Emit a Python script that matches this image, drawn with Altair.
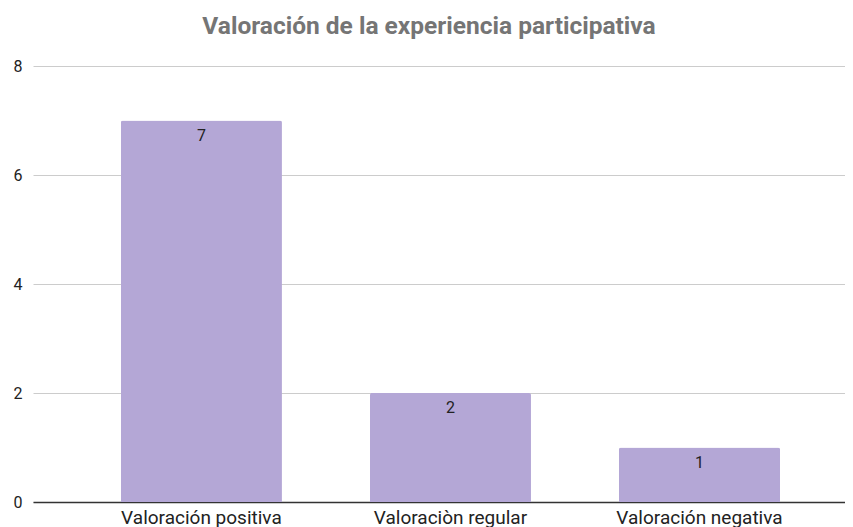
import altair as alt
import pandas as pd

categories = ["Valoración positiva", "Valoraciòn regular", "Valoración negativa"]
values = [7, 2, 1]

df = pd.DataFrame({"cat": categories, "val": values})

x = alt.X("cat:N", sort=categories, title=None,
          scale=alt.Scale(paddingInner=0.3534, paddingOuter=0.307, align=0.575),
          axis=alt.Axis(labelAngle=0, labelFont="Roboto", labelFontSize=19,
                        labelColor="#222222", ticks=False, domainColor="#333333",
                        domainWidth=1.5, labelPadding=6))
y = alt.Y("val:Q", title=None,
          scale=alt.Scale(domain=[0, 8]),
          axis=alt.Axis(values=[0, 2, 4, 6, 8], labelFont="Roboto", labelFontSize=16,
                        labelColor="#222222", domain=False, ticks=False,
                        gridColor="#cccccc", labelPadding=11))

base = alt.Chart(df).encode(x=x, y=y)

bars = base.mark_bar(color="#b4a7d6", cornerRadiusTopLeft=2, cornerRadiusTopRight=2)
labels = base.mark_text(baseline="middle", dy=15, font="Roboto", fontSize=16,
                        color="#222222").encode(text="val:Q")

chart = (bars + labels).properties(
    width=812, height=436,
    title=alt.TitleParams("Valoración de la experiencia participativa",
                          font="Roboto", fontSize=24.5, fontWeight="bold",
                          color="#757575", offset=19, dx=-10),
    autosize=alt.AutoSizeParams(type="none"),
    padding={"left": 25, "top": 58, "right": 0, "bottom": 25},
).configure_view(stroke=None)

chart.save("out.html", embed_options={"renderer": "svg", "actions": False})
